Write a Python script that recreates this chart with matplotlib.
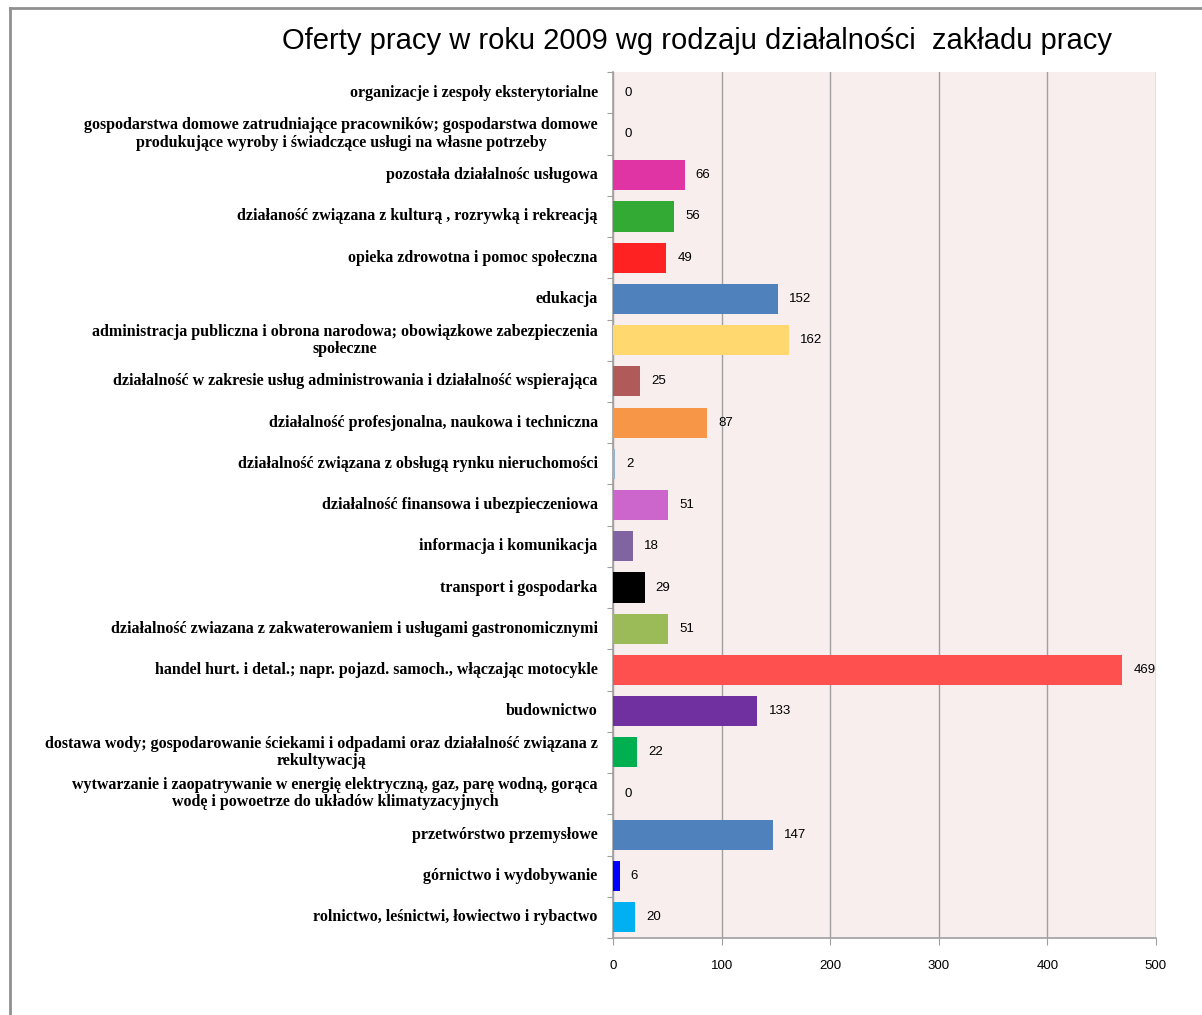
import matplotlib.pyplot as plt
from matplotlib.lines import Line2D

# categories from top to bottom as in the chart
categories = [
    'organizacje i zespoły eksterytorialne',
    'gospodarstwa domowe zatrudniające pracowników; gospodarstwa domowe\nprodukujące wyroby i świadczące usługi na własne potrzeby',
    'pozostała działalnośc usługowa',
    'działaność związana z kulturą , rozrywką i rekreacją',
    'opieka zdrowotna i pomoc społeczna',
    'edukacja',
    'administracja publiczna i obrona narodowa; obowiązkowe zabezpieczenia\nspołeczne',
    'działalność w zakresie usług administrowania i działalność wspierająca',
    'działalność profesjonalna, naukowa i techniczna',
    'działalność związana z obsługą rynku nieruchomości',
    'działalność finansowa i ubezpieczeniowa',
    'informacja i komunikacja',
    'transport i gospodarka',
    'działalność zwiazana z zakwaterowaniem i usługami gastronomicznymi',
    'handel hurt. i detal.; napr. pojazd. samoch., włączając motocykle',
    'budownictwo',
    'dostawa wody; gospodarowanie ściekami i odpadami oraz działalność związana z\nrekultywacją',
    'wytwarzanie i zaopatrywanie w energię elektryczną, gaz, parę wodną, gorąca\nwodę i powoetrze do układów klimatyzacyjnych',
    'przetwórstwo przemysłowe',
    'górnictwo i wydobywanie',
    'rolnictwo, leśnictwi, łowiectwo i rybactwo',
]
values = [0, 0, 66, 56, 49, 152, 162, 25, 87, 2, 51, 18, 29, 51, 469, 133, 22, 0, 147, 6, 20]
colors = ['#4F81BD', '#4F81BD', '#E033A4', '#33AA33', '#FF2222', '#4F81BD', '#FFD86F',
          '#B05A5A', '#F79646', '#95B3D7', '#CC66CC', '#8064A2', '#000000', '#9BBB59',
          '#FF5050', '#7030A0', '#00B050', '#4F81BD', '#4F81BD', '#0000FF', '#00B0F0']
x_ticks = [0, 100, 200, 300, 400, 500]

fig = plt.figure(figsize=(12.02, 10.15), dpi=100)
ax = fig.add_axes([0.51, 0.0759, 0.4517, 0.853])

ypos = list(range(len(categories)))[::-1]
ax.barh(ypos, values, height=0.73, color=colors, zorder=3)

for y, v in zip(ypos, values):
    ax.annotate(str(v), (v, y), xytext=(8, 0), textcoords='offset points',
                va='center', ha='left', fontsize=9.5, family='Liberation Sans')

ax.set_facecolor('#F8EEEE')
ax.set_xlim(0, 500)
ax.set_ylim(-0.5, len(categories) - 0.5)
ax.set_xticks(x_ticks)
ax.set_xticklabels([str(t) for t in x_ticks], fontsize=9.5, family='Liberation Sans')
ax.tick_params(axis='x', length=5, color='#A0A0A0', pad=11)
ax.xaxis.grid(True, color='#A0A0A0', linewidth=1, zorder=1)

# category ticks between bars, labels placed separately
ax.set_yticks([i - 0.5 for i in range(len(categories) + 1)])
ax.set_yticklabels([])
ax.tick_params(axis='y', length=4, color='#A0A0A0')
for y, lab in zip(ypos, categories):
    ax.annotate(lab, (0, y), xycoords=('axes fraction', 'data'), xytext=(-11, 0),
                textcoords='offset points', ha='right', va='center', multialignment='center',
                fontsize=11.5, fontweight='bold', family='Liberation Serif',
                linespacing=1.1)

for s in ['top', 'right']:
    ax.spines[s].set_visible(False)
for s in ['left', 'bottom']:
    ax.spines[s].set_color('#A0A0A0')
    ax.spines[s].set_linewidth(1.2)

fig.text(0.58, 0.96, 'Oferty pracy w roku 2009 wg rodzaju działalności  zakładu pracy',
         ha='center', va='center', fontsize=21, family='Liberation Sans')

# chart frame (left and top edges visible)
fig.add_artist(Line2D([10 / 1202, 10 / 1202], [0, 1 - 8 / 1015], color='#909090', lw=2))
fig.add_artist(Line2D([10 / 1202, 1], [1 - 8 / 1015, 1 - 8 / 1015], color='#909090', lw=2))

fig.savefig('out.png', dpi=100)
